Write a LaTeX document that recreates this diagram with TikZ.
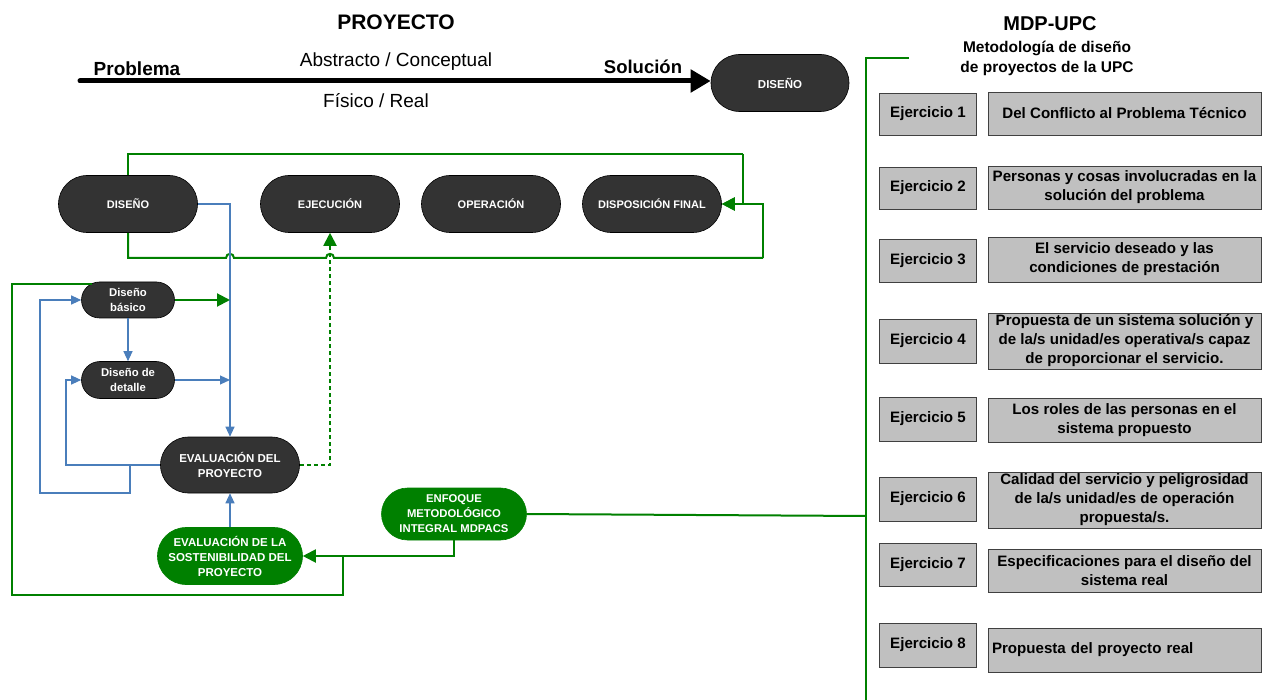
\documentclass[tikz,border=0pt]{standalone}
\usepackage{fontspec}
\setmainfont{Liberation Sans}
\usetikzlibrary{shapes.misc,arrows.meta,calc}
\definecolor{gr}{HTML}{008000}
\definecolor{bl}{HTML}{4A7EBB}
\definecolor{dk}{HTML}{333333}
\definecolor{bx}{HTML}{C0C0C0}
\definecolor{bxd}{HTML}{404040}
\begin{document}
\begin{tikzpicture}[x=1pt,y=-1pt,
 pill/.style={rounded rectangle, draw=black, line width=0.6pt, fill=dk, text=white,
   font=\bfseries\fontsize{11}{15}\selectfont, align=center, inner sep=0pt},
 gpill/.style={pill, fill=gr, draw=gr},
 gline/.style={draw=gr, line width=2pt},
 bline/.style={draw=bl, line width=1.1pt},
 gtip/.style={-{Triangle[length=13pt,width=13pt]}},
 btip/.style={-{Triangle[length=10pt,width=9pt]}},
 ebox/.style={draw=bxd, fill=bx, line width=0.8pt,
   font=\bfseries\fontsize{15.1}{19}\selectfont, align=center, inner sep=0pt},
 lbox/.style={ebox, minimum width=97pt},
 rbox/.style={ebox, minimum width=273pt},
]
\useasboundingbox[fill=white] (0,0) rectangle (1277,700);

% ---- top titles
\node[font=\bfseries\fontsize{21}{25}\selectfont] (tp) at (396,22) {PROYECTO};
\node[font=\bfseries\fontsize{19}{22}\selectfont] (tprob) at (137,69) {Problema};
\node[font=\bfseries\fontsize{18.5}{22}\selectfont] (tsol) at (643,67) {Solución};
\node[font=\fontsize{19}{22}\selectfont] (tabs) at (396,62) {Abstracto / Conceptual};
\node[font=\fontsize{19}{22}\selectfont] (tfis) at (376,101) {Físico / Real};
\node[pill, minimum width=138pt, minimum height=57pt, font=\bfseries\fontsize{11.5}{13}\selectfont] (dtop) at (780,83) {DISEÑO};
\coordinate (pstart) at (80,81);
\draw[line width=5pt, line cap=round, -{Triangle[length=20pt,width=22pt]}] (pstart) -- (pstart -| dtop.west);

\node[font=\bfseries\fontsize{20}{24}\selectfont] (tm) at (1050,24) {MDP-UPC};
\node[font=\bfseries\fontsize{15.5}{20}\selectfont, align=center] (tmet) at (1047,58) {Metodología de diseño\\de proyectos de la UPC};

% ---- row 2
\node[pill, minimum width=139pt, minimum height=57pt] (d2) at (128,204) {DISEÑO};
\node[pill, minimum width=139pt, minimum height=57pt] (ej) at (330,204) {EJECUCIÓN};
\node[pill, minimum width=139pt, minimum height=57pt] (op) at (491,204) {OPERACIÓN};
\node[pill, minimum width=139pt, minimum height=57pt] (df) at (652,204) {DISPOSICIÓN FINAL};

% ---- left block
\node[pill, minimum width=93pt, minimum height=36pt, font=\bfseries\fontsize{11.3}{15}\selectfont] (db) at (128,300) {Diseño\\básico};
\node[pill, minimum width=93pt, minimum height=37pt, font=\bfseries\fontsize{11.3}{15}\selectfont] (dd) at (128,380) {Diseño de\\detalle};
\node[pill, minimum width=139pt, minimum height=56pt, font=\bfseries\fontsize{11.5}{15}\selectfont] (ev) at (230,465) {EVALUACIÓN DEL\\PROYECTO};
\node[gpill, minimum width=145pt, minimum height=57pt, font=\bfseries\fontsize{11.5}{15}\selectfont] (ms) at (230,556) {EVALUACIÓN DE LA\\SOSTENIBILIDAD DEL\\PROYECTO};
\node[gpill, minimum width=145pt, minimum height=52pt, font=\bfseries\fontsize{11.3}{15}\selectfont] (enf) at (454,514) {ENFOQUE\\METODOLÓGICO\\INTEGRAL MDPACS};

% ---- exercise boxes
\node[lbox, minimum height=42pt] (l1) at (928,114) {Ejercicio 1};
\node[rbox, minimum height=43pt] (r1) at (1124.5,113.5) {Del Conflicto al Problema Técnico};
\node[lbox, minimum height=42pt] (l2) at (928,188) {Ejercicio 2};
\node[rbox, minimum height=43pt] (r2) at (1124.5,187.5) {Personas y cosas involucradas en la\\solución del problema};
\node[lbox, minimum height=43pt] (l3) at (928,260.5) {Ejercicio 3};
\node[rbox, minimum height=45pt] (r3) at (1124.5,259.5) {El servicio deseado y las\\condiciones de prestación};
\node[lbox, minimum height=44pt] (l4) at (928,341) {Ejercicio 4};
\node[rbox, minimum height=56pt] (r4) at (1124.5,341) {Propuesta de un sistema solución y\\de la/s unidad/es operativa/s capaz\\de proporcionar el servicio.};
\node[lbox, minimum height=44pt] (l5) at (928,419) {Ejercicio 5};
\node[rbox, minimum height=44pt] (r5) at (1124.5,420) {Los roles de las personas en el\\sistema propuesto};
\node[lbox, minimum height=44pt] (l6) at (928,499) {Ejercicio 6};
\node[rbox, minimum height=56pt] (r6) at (1124.5,500) {Calidad del servicio y peligrosidad\\de la/s unidad/es de operación\\propuesta/s.};
\node[lbox, minimum height=43pt] (l7) at (928,564.5) {Ejercicio 7};
\node[rbox, minimum height=43pt] (r7) at (1124.5,570.5) {Especificaciones para el diseño del\\sistema real};
\node[lbox, minimum height=44pt] (l8) at (928,645) {Ejercicio 8};
\node[rbox, minimum height=44pt, text width=265pt, align=left] (r8) at (1124.5,650) {Propuesta del proyecto real};

% ---- green bracket on the right
\coordinate (gt) at (909,58);
\coordinate (gc) at (866,58);
\coordinate (gb) at (866,700);
\coordinate (gm) at (866,516);
\draw[gline] (gt) -- (gc) -- (gb);
\draw[gline] (enf.east) -- (gm);

% ---- green loops of row 2
\coordinate (lt) at (743,154);
\coordinate (lb) at (763,258);
\draw[gline] (d2.north) |- (lt);
\draw[gline, gtip] (lt) |- (df.east);
\draw[gline] (d2.south) -- (128,258) -- (226,258) .. controls (226,252.5) and (234,252.5) .. (234,258)
  -- (326,258) .. controls (326,252.5) and (334,252.5) .. (334,258) -- (lb);
\draw[gline, gtip] (lb) |- (df.east);

% ---- blue connectors
\coordinate (bv1) at (230,300);
\coordinate (bv2) at (230,380);
\draw[bline, btip] (d2.east) -| (ev.north);
\draw[bline, btip] (db.south) -- (dd.north);
\draw[bline, btip] (dd.east) -- (bv2);
\coordinate (bl1) at (66,465);
\draw[bline, btip] (ev.west) -- (bl1) |- (dd.west);
\coordinate (bk) at (130,465);
\coordinate (bl2) at (40,493);
\draw[bline, btip] (bk) |- (bl2) |- (db.west);
\draw[bline, btip] (ms.north) -- (ev.south);

% ---- green connectors of left block
\draw[gline, gtip] (db.east) -- (bv1);
\draw[gline, dashed, dash pattern=on 4pt off 3pt, gtip] (ev.east) -| (ej.south);
\draw[gline, gtip] (enf.south) |- (ms.east);
\coordinate (gk) at (343,556);
\coordinate (gl) at (12,595);
\coordinate (gdb) at ($(db.north)+(-36,2)$);
\draw[gline] (gk) |- (gl) |- (gdb);
\end{tikzpicture}
\end{document}
